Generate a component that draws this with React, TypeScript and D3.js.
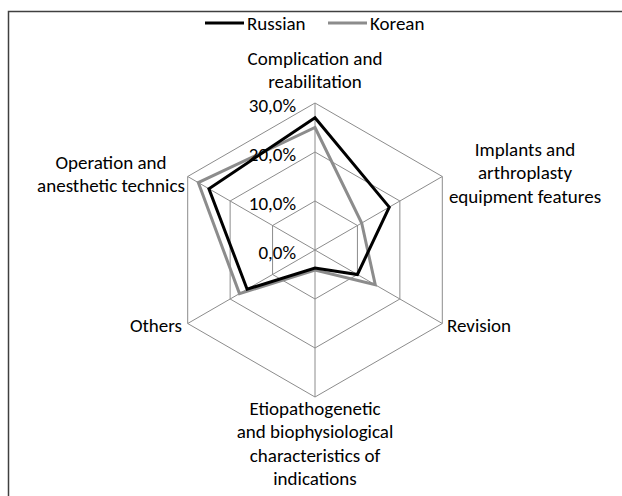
import { useEffect, useRef } from "react";
import * as d3 from "d3";

const categories = [
  ["Complication and", "reabilitation"],
  ["Implants and", "arthroplasty", "equipment features"],
  ["Revision"],
  ["Etiopathogenetic", "and biophysiological", "characteristics of", "indications"],
  ["Others"],
  ["Operation and", "anesthetic technics"],
];
const russian = [27, 17.5, 10, 3.7, 16, 25];
const korean = [25, 11, 14.2, 4.1, 17.8, 27.5];
const ticks = [0, 10, 20, 30];
const tickLabels = ["0,0%", "10,0%", "20,0%", "30,0%"];

const FONT = "Carlito, Calibri, Lato, sans-serif";
const FS = 19;

export default function App() {
  const svgRef = useRef<SVGSVGElement | null>(null);

  useEffect(() => {
    if (!svgRef.current) return;
    const svg = d3.select(svgRef.current);
    svg.selectAll("*").remove();

    const width = 622;
    const cx = 315;
    const cy = 250;
    const R = 147;
    const n = categories.length;

    const r = d3.scaleLinear().domain([0, 30]).range([0, R]);
    const angle = (i: number) => (i * 2 * Math.PI) / n;
    const pt = (i: number, v: number): [number, number] => [
      cx + r(v) * Math.sin(angle(i)),
      cy - r(v) * Math.cos(angle(i)),
    ];

    // frame
    svg
      .append("path")
      .attr("d", `M8.5,496 V11.5 H${width}`)
      .attr("fill", "none")
      .attr("stroke", "#404040")
      .attr("stroke-width", 1.5);

    const g = svg.append("g");

    // grid rings
    ticks.slice(1).forEach((t) => {
      g.append("path")
        .attr("d", d3.line()(d3.range(n).map((i) => pt(i, t))) + "Z")
        .attr("fill", "none")
        .attr("stroke", "#8c8c8c")
        .attr("stroke-width", 1);
    });

    // spokes
    d3.range(n).forEach((i) => {
      const [x, y] = pt(i, 30);
      g.append("line")
        .attr("x1", cx)
        .attr("y1", cy)
        .attr("x2", x)
        .attr("y2", y)
        .attr("stroke", "#8c8c8c")
        .attr("stroke-width", 1);
    });

    // series
    const radial = d3
      .lineRadial<number>()
      .angle((_, i) => angle(i))
      .radius((d) => r(d))
      .curve(d3.curveLinearClosed);

    const series = [
      { values: korean, color: "#8c8c8c" },
      { values: russian, color: "#000000" },
    ];
    series.forEach((s) => {
      g.append("path")
        .attr("transform", `translate(${cx},${cy})`)
        .attr("d", radial(s.values))
        .attr("fill", "none")
        .attr("stroke", s.color)
        .attr("stroke-width", 3)
        .attr("stroke-linejoin", "miter");
    });

    // tick labels
    ticks.forEach((t, i) => {
      g.append("text")
        .attr("x", cx - 19)
        .attr("y", cy - r(t) + 2)
        .attr("dy", "0.35em")
        .attr("text-anchor", "end")
        .attr("font-family", FONT)
        .attr("font-size", FS)
        .attr("fill", "#000")
        .text(tickLabels[i]);
    });

    // category labels
    const labelPos = [
      { x: 315, y: 58, anchor: "middle" },
      { x: 525, y: 149, anchor: "middle" },
      { x: 447, y: 325, anchor: "start" },
      { x: 315, y: 408, anchor: "middle" },
      { x: 182, y: 325, anchor: "end" },
      { x: 111, y: 162, anchor: "middle" },
    ];
    categories.forEach((lines, i) => {
      const p = labelPos[i];
      const t = g
        .append("text")
        .attr("text-anchor", p.anchor)
        .attr("font-family", FONT)
        .attr("font-size", FS)
        .attr("fill", "#000");
      lines.forEach((line, j) => {
        t.append("tspan")
          .attr("x", p.x)
          .attr("y", p.y + j * 23.5)
          .attr("dy", "0.35em")
          .text(line);
      });
    });

    // legend
    const legend = [
      { name: "Russian", color: "#000000", x: 205 },
      { name: "Korean", color: "#8c8c8c", x: 328 },
    ];
    legend.forEach((l) => {
      svg
        .append("line")
        .attr("x1", l.x)
        .attr("x2", l.x + 39)
        .attr("y1", 23)
        .attr("y2", 23)
        .attr("stroke", l.color)
        .attr("stroke-width", 3);
      svg
        .append("text")
        .attr("x", l.x + 42)
        .attr("y", 23)
        .attr("dy", "0.35em")
        .attr("font-family", FONT)
        .attr("font-size", FS)
        .attr("fill", "#000")
        .text(l.name);
    });
  }, []);

  return (
    <svg
      ref={svgRef}
      width={622}
      height={496}
      style={{ position: "absolute", left: 0, top: 0, background: "#fff" }}
    />
  );
}
